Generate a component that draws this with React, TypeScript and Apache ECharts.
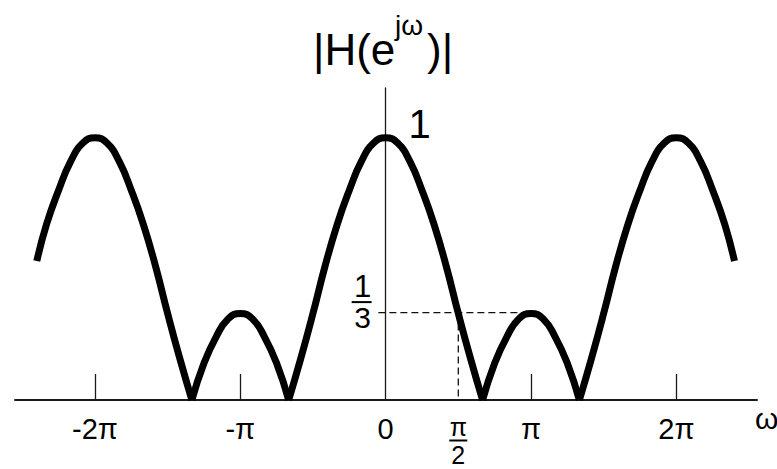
import { useEffect, useRef } from 'react';
import * as echarts from 'echarts';

const FONT = '"Liberation Sans", Arial, Helvetica, sans-serif';
const INK = '#000';
const AXIS_INK = '#1a1a1a';

// Frequency samples ω, in multiples of π
const omegaOverPi = [
  -2.4, -2.333, -2.25, -2.167, -2.083, -2, -1.917, -1.833, -1.75, -1.667,
  -1.583, -1.5, -1.417, -1.333, -1.25, -1.167, -1.083, -1, -0.917, -0.833,
  -0.75, -0.667, -0.583, -0.5, -0.417, -0.333, -0.25, -0.167, -0.083, 0,
  0.083, 0.167, 0.25, 0.333, 0.417, 0.5, 0.583, 0.667, 0.75, 0.833,
  0.917, 1, 1.083, 1.167, 1.25, 1.333, 1.417, 1.5, 1.583, 1.667,
  1.75, 1.833, 1.917, 2, 2.083, 2.167, 2.25, 2.333, 2.4,
];

// Magnitude response |H(e^{jω})| at those frequencies
const magnitude = [
  0.53, 0.67, 0.8, 0.91, 0.98, 1.0, 0.98, 0.91, 0.8, 0.67,
  0.51, 0.33, 0.16, 0.0, 0.14, 0.24, 0.31, 0.33, 0.31, 0.24,
  0.14, 0.0, 0.16, 0.33, 0.51, 0.67, 0.8, 0.91, 0.98, 1.0,
  0.98, 0.91, 0.8, 0.67, 0.51, 0.33, 0.16, 0.0, 0.14, 0.24,
  0.31, 0.33, 0.31, 0.24, 0.14, 0.0, 0.16, 0.33, 0.51, 0.67,
  0.8, 0.91, 0.98, 1.0, 0.98, 0.91, 0.8, 0.67, 0.53,
];

// Axis ticks and labels (ω / π)
const xTickValues = [-2, -1, 1, 2];
const xLabelValues = [-2, -1, 0, 0.5, 1, 2];
const xLabelTexts: Record<string, string> = {
  '-2': '-2π',
  '-1': '-π',
  '0': '0',
  '0.5': '{num|π}\n{den|2}',
  '1': 'π',
  '2': '2π',
};

// Reference level and the frequencies where it is marked
const guideLevel = 1 / 3;
const guideOmegaHalf = 0.5;
const guideOmegaPi = 1;
const guideStart = -0.05;
const peakValue = 1;

// Split the response into lobes at its zeros so each lobe can be smoothed
// while the notches stay sharp.
function lobes(): number[][][] {
  const out: number[][][] = [];
  let cur: number[][] = [];
  omegaOverPi.forEach((w, i) => {
    const p = [w, magnitude[i]];
    cur.push(p);
    if (magnitude[i] === 0 && cur.length > 1) {
      out.push(cur);
      cur = [p];
    }
  });
  if (cur.length > 1) out.push(cur);
  return out;
}

export default function App() {
  const ref = useRef<HTMLDivElement>(null);

  useEffect(() => {
    if (!ref.current) return;
    const chart = echarts.init(ref.current, null, { renderer: 'svg' });

    const curveSeries = lobes().map((pts) => ({
      type: 'line',
      data: pts,
      symbol: 'none',
      smooth: 0.5,
      z: 3,
      lineStyle: { color: INK, width: 7, cap: 'butt', join: 'round' },
    }));

    chart.setOption({
      animation: false,
      grid: { left: 15, right: 20, top: 88, bottom: 69, outerBoundsMode: 'none', containLabel: false },
      xAxis: {
        type: 'value',
        min: -2.55,
        max: 2.555,
        name: 'ω',
        nameLocation: 'end',
        nameGap: -2,
        nameTextStyle: {
          fontFamily: FONT,
          fontSize: 30,
          lineHeight: 30,
          color: INK,
          align: 'left',
          verticalAlign: 'top',
          padding: [3, 0, 0, 0],
        },
        axisLine: { show: true, onZero: true, lineStyle: { color: AXIS_INK, width: 2 } },
        axisTick: {
          show: true,
          inside: true,
          length: 26,
          customValues: xTickValues,
          lineStyle: { color: AXIS_INK, width: 1.3 },
        },
        axisLabel: {
          show: true,
          customValues: xLabelValues,
          margin: 13,
          color: INK,
          fontFamily: FONT,
          fontSize: 29,
          lineHeight: 31,
          formatter: (v: number) => xLabelTexts[String(v)] ?? '',
          rich: {
            num: { fontFamily: FONT, fontSize: 25, lineHeight: 27, color: INK },
            den: { fontFamily: FONT, fontSize: 25, lineHeight: 29, color: INK },
          },
        },
        splitLine: { show: false },
      },
      yAxis: {
        type: 'value',
        min: 0,
        max: 1.19,
        axisLine: { show: true, onZero: true, lineStyle: { color: AXIS_INK, width: 1.3 } },
        axisTick: { show: false },
        axisLabel: { show: false },
        splitLine: { show: false },
      },
      series: [
        {
          type: 'line',
          data: [
            [guideStart, guideLevel],
            [guideOmegaPi, guideLevel],
          ],
          symbol: 'none',
          silent: true,
          z: 1,
          lineStyle: { color: '#111', width: 1.3, type: [7, 4] },
        },
        {
          type: 'line',
          data: [
            [guideOmegaHalf, guideLevel],
            [guideOmegaHalf, 0],
          ],
          symbol: 'none',
          silent: true,
          z: 1,
          lineStyle: { color: '#111', width: 1.3, type: [7, 4] },
        },
        ...curveSeries,
      ],
    });

    const toPx = (x: number, y: number) =>
      chart.convertToPixel({ xAxisIndex: 0, yAxisIndex: 0 }, [x, y]) as number[];
    const [ox, peakY] = toPx(0, peakValue);
    const [, thirdY] = toPx(0, guideLevel);
    const [halfX, zeroY] = toPx(guideOmegaHalf, 0);

    chart.setOption({
      graphic: [
        // |H(e^{jω})| title, centred over the vertical axis
        {
          type: 'text',
          x: 313,
          y: 49.6,
          style: { text: '|H(e', font: `44px ${FONT}`, fill: INK, align: 'left', verticalAlign: 'middle' },
        },
        {
          type: 'text',
          x: 395,
          y: 25.5,
          style: { text: 'jω', font: `28px ${FONT}`, fill: INK, align: 'left', verticalAlign: 'middle' },
        },
        {
          type: 'text',
          x: 427,
          y: 49.6,
          style: { text: ')|', font: `44px ${FONT}`, fill: INK, align: 'left', verticalAlign: 'middle' },
        },
        // peak value label
        {
          type: 'text',
          x: ox + 34,
          y: peakY - 13.5,
          style: { text: '1', font: `40px ${FONT}`, fill: INK, align: 'center', verticalAlign: 'middle' },
        },
        // 1/3 fraction beside the vertical axis
        {
          type: 'text',
          x: ox - 23,
          y: thirdY - 26,
          style: { text: '1', font: `31px ${FONT}`, fill: INK, align: 'center', verticalAlign: 'middle' },
        },
        {
          type: 'line',
          shape: { x1: ox - 34, y1: thirdY - 10.5, x2: ox - 14, y2: thirdY - 10.5 },
          style: { stroke: INK, lineWidth: 2 },
        },
        {
          type: 'text',
          x: ox - 23,
          y: thirdY + 5,
          style: { text: '3', font: `30px ${FONT}`, fill: INK, align: 'center', verticalAlign: 'middle' },
        },
        // fraction bar of the π/2 tick label
        {
          type: 'line',
          shape: { x1: halfX - 9, y1: zeroY + 40.5, x2: halfX + 9, y2: zeroY + 40.5 },
          style: { stroke: INK, lineWidth: 2 },
        },
      ],
    });

    return () => chart.dispose();
  }, []);

  return (
    <div
      ref={ref}
      style={{ position: 'absolute', left: 0, top: 0, width: 777, height: 469, background: '#fff' }}
    />
  );
}
